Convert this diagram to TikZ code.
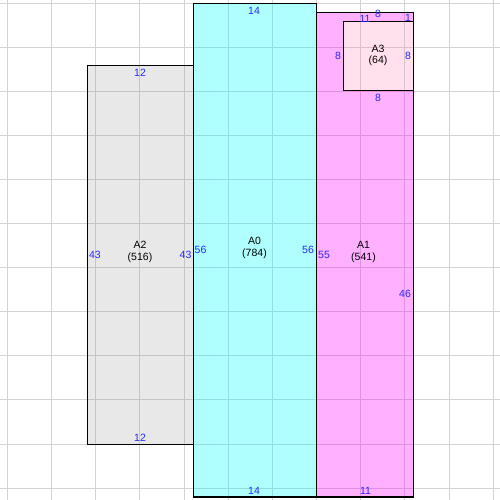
\documentclass[tikz,border=0pt]{standalone}
\usepackage{fontspec}
\setmainfont{Liberation Sans}
\begin{document}
\begin{tikzpicture}[x=1pt,y=-1pt,
  box/.style={draw=black,line width=1.2pt},
  lbl/.style={font=\fontsize{10.5}{11.5}\selectfont,align=center,inner sep=0pt,text=black},
  num/.style={font=\fontsize{10.5}{11}\selectfont,inner sep=0pt,text={rgb,255:red,40;green,40;blue,255}}]
\definecolor{cA0}{RGB}{176,255,255}
\definecolor{cA1}{RGB}{255,176,255}
\definecolor{cA2}{RGB}{232,232,232}
\definecolor{cA3}{RGB}{255,224,236}
\definecolor{gW}{RGB}{211,211,211}
\definecolor{gA0}{RGB}{146,222,222}
\definecolor{gA1}{RGB}{222,146,222}
\definecolor{gA2}{RGB}{196,196,196}
\definecolor{gA3}{RGB}{222,190,200}
\newcommand{\gridlines}[1]{%
  \foreach \i in {0,...,11} {
    \draw[#1,line width=1pt] (7.5+44.15*\i,0) -- (7.5+44.15*\i,500);
    \draw[#1,line width=1pt] (0,3.5+44.05*\i) -- (500,3.5+44.05*\i);
  }}
\useasboundingbox[fill=white] (0,0) rectangle (500,500);
\gridlines{gW}
% fills with tinted grid
\begin{scope}
  \clip (87.3,65.3) rectangle (193.3,444.3);
  \fill[cA2] (87.3,65.3) rectangle (193.3,444.3);
  \gridlines{gA2}
\end{scope}
\begin{scope}
  \clip (193.3,3.3) rectangle (316.3,497);
  \fill[cA0] (193.3,3.3) rectangle (316.3,497);
  \gridlines{gA0}
\end{scope}
\begin{scope}
  \clip (316.3,12.3) rectangle (413.3,497);
  \fill[cA1] (316.3,12.3) rectangle (413.3,497);
  \gridlines{gA1}
\end{scope}
\begin{scope}
  \clip (343.3,21.3) rectangle (413.3,90.7);
  \fill[cA3] (343.3,21.3) rectangle (413.3,90.7);
  \gridlines{gA3}
\end{scope}
% borders
\draw[box] (87.3,65.3) rectangle (193.3,444.3);
\draw[box] (193.3,3.3) rectangle (316.3,497);
\draw[box] (316.3,12.3) rectangle (413.3,497);
\draw[box] (343.3,21.3) rectangle (413.3,90.7);
% labels
\node[lbl] (a2) at (140,252) {A2\\(516)};
\node[lbl] (a0) at (254.5,248) {A0\\(784)};
\node[lbl] (a1) at (363.5,252) {A1\\(541)};
\node[lbl] (a3) at (378,55.5) {A3\\(64)};
% edge numbers
\node[num] (a2t) at (140,72.5) {12};
\node[num] (a2b) at (140,438) {12};
\node[num] (a2l) at (95,255) {43};
\node[num] (a2r) at (185.5,255) {43};
\node[num] (a0t) at (254,10.5) {14};
\node[num] (a0b) at (254,491) {14};
\node[num] (a0l) at (200.5,250) {56};
\node[num] (a0r) at (308,250) {56};
\node[num] (a1t) at (365,18.5) {11};
\node[num] (a1tr) at (408,17.5) {1};
\node[num] (a1l) at (324,255) {55};
\node[num] (a1r) at (405,293.5) {46};
\node[num] (a1b) at (365.5,491) {11};
\node[num] (a3t) at (378,14) {8};
\node[num] (a3b) at (378,97.5) {8};
\node[num] (a3l) at (338,56) {8};
\node[num] (a3r) at (408,56) {8};
\end{tikzpicture}
\end{document}
